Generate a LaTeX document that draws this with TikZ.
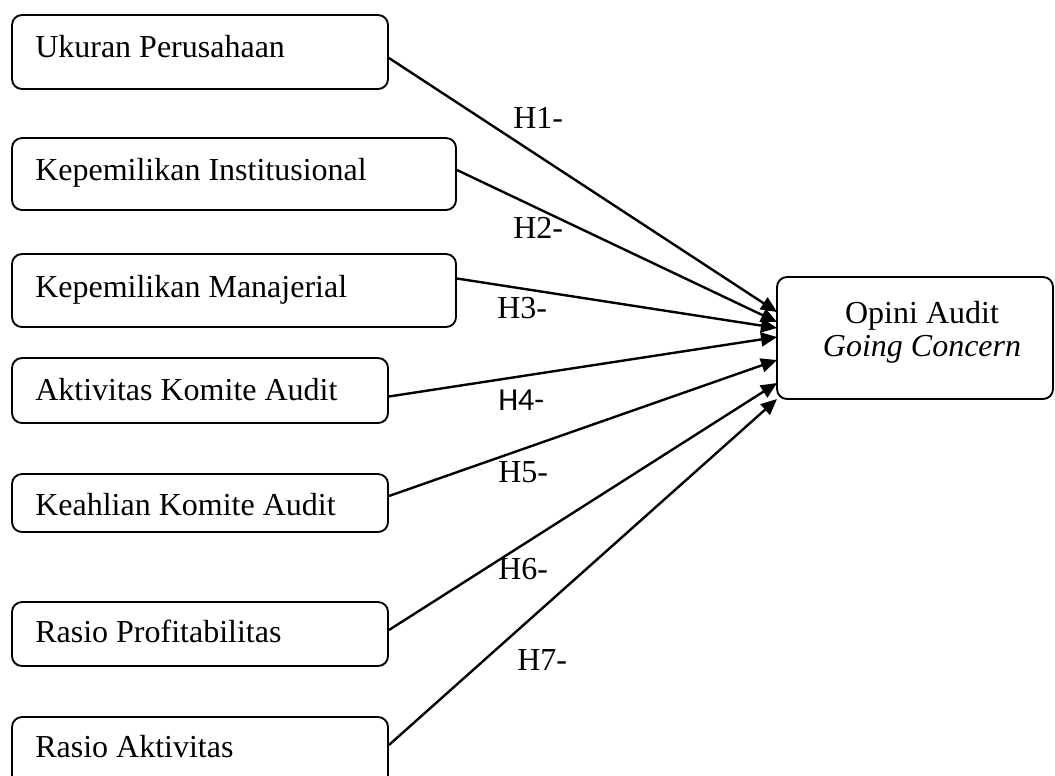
\documentclass[tikz,border=0pt]{standalone}
\usepackage{fontspec}
\setmainfont{Liberation Serif}
\newfontfamily\carlito{Carlito}
\usetikzlibrary{arrows.meta,calc}
\begin{document}
\begin{tikzpicture}[x=0.75pt,y=-0.75pt,
  box/.style={draw,line width=1.4pt,rounded corners=7.5pt,inner sep=0pt},
  txt/.style={anchor=base west,inner sep=0pt,font=\fontsize{24}{28}\selectfont},
  hlab/.style={anchor=base west,inner sep=0pt,font=\fontsize{24}{28}\selectfont},
  arr/.style={line width=1.8pt,-{Triangle[length=12pt,width=10.5pt]}}]
\clip (0,0) rectangle (1055,775);
\useasboundingbox (0,0) rectangle (1055,775);
% source boxes
\node[box,minimum width=376*0.75pt,minimum height=74*0.75pt] (b1) at (200,52) {};
\node[box,minimum width=444*0.75pt,minimum height=72*0.75pt] (b2) at (234,174) {};
\node[box,minimum width=444*0.75pt,minimum height=73*0.75pt] (b3) at (234,290.5) {};
\node[box,minimum width=376*0.75pt,minimum height=65*0.75pt] (b4) at (200,390.5) {};
\node[box,minimum width=376*0.75pt,minimum height=58*0.75pt] (b5) at (200,503) {};
\node[box,minimum width=376*0.75pt,minimum height=64*0.75pt] (b6) at (200,634) {};
\node[box,minimum width=376*0.75pt,minimum height=80*0.75pt] (b7) at (200,757) {};
\node[txt] (l1) at (35,57) {Ukuran Perusahaan};
\node[txt] (l2) at (35,180) {Kepemilikan Institusional};
\node[txt] (l3) at (35,297) {Kepemilikan Manajerial};
\node[txt] (l4) at (35,400) {Aktivitas Komite Audit};
\node[txt] (l5) at (35,515) {Keahlian Komite Audit};
\node[txt] (l6) at (35,642) {Rasio Profitabilitas};
\node[txt] (l7) at (35,757) {Rasio Aktivitas};
% target box
\node[box,minimum width=276*0.75pt,minimum height=122*0.75pt] (tg) at (915,338) {};
\node[inner sep=0pt,anchor=base,font=\fontsize{24}{28}\selectfont] (tg1) at (922,323) {Opini Audit};
\node[inner sep=0pt,anchor=base,font=\fontsize{24}{28}\selectfont\itshape] (tg2) at (922,356) {Going Concern};
% arrow end points on target
\coordinate (t1) at (777,312);
\coordinate (t2) at (777,322);
\coordinate (t3) at (777,328);
\coordinate (t4) at (777,337);
\coordinate (t5) at (777,360);
\coordinate (t6) at (777,383);
\coordinate (t7) at (777,399);
\draw[arr] ($(b1.east)+(0,6)$) -- (t1);
\draw[arr] ($(b2.east)+(0,-4)$) -- (t2);
\draw[arr] ($(b3.east)+(0,-12)$) -- (t3);
\draw[arr] ($(b4.east)+(0,6)$) -- (t4);
\draw[arr] ($(b5.east)+(0,-7)$) -- (t5);
\draw[arr] ($(b6.east)+(0,-4)$) -- (t6);
\draw[arr] ($(b7.east)+(0,-12)$) -- (t7);
% labels
\node[hlab] (h1) at (513,128) {H1-};
\node[hlab] (h2) at (513,238) {H2-};
\node[hlab] (h3) at (497,318) {H3-};
\node[hlab,font=\fontsize{24}{28}\selectfont\carlito] (h4) at (498,410) {H4-};
\node[hlab] (h5) at (498,482) {H5-};
\node[hlab] (h6) at (498,579) {H6-};
\node[hlab] (h7) at (517,670) {H7-};
\end{tikzpicture}
\end{document}
